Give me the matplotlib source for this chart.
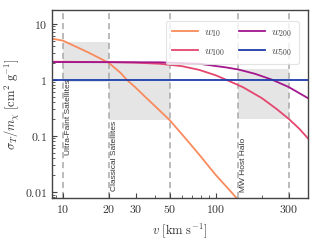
import matplotlib
matplotlib.use("Agg")
import matplotlib.pyplot as plt
from matplotlib.ticker import FixedLocator, FixedFormatter, LogLocator, NullFormatter

plt.rcParams['mathtext.fontset'] = 'cm'
plt.rcParams['font.family'] = 'DejaVu Serif'

# cross section curves (v in km/s, sigma/m in cm^2/g)
v_w10 = [8.5, 10, 14.7, 20, 23.9, 26.2, 30, 35, 40, 50, 65, 78, 100, 122, 140]
s_w10 = [5.4, 5.0, 3.07, 2.0, 1.32, 1.0, 0.72, 0.48, 0.34, 0.19, 0.083, 0.046, 0.020, 0.011, 0.0072]

v_w100 = [8.5, 20, 30, 43, 60, 78, 100, 117, 150, 200, 250, 300, 350, 400]
s_w100 = [2.1, 2.07, 2.02, 1.93, 1.75, 1.5, 1.2, 1.0, 0.74, 0.47, 0.30, 0.20, 0.135, 0.09]

v_w200 = [8.5, 43, 78, 117, 141, 180, 234, 300, 400]
s_w200 = [2.07, 2.05, 1.93, 1.66, 1.52, 1.28, 1.0, 0.74, 0.47]

v_w500 = [8.5, 400]
s_w500 = [1.0, 1.0]

# observational ranges: (v_lo, v_hi, sigma_lo, sigma_hi, label)
regions = [
    (10, 20, 0.9, 4.8, "Ultra-Faint Satellites"),
    (20, 50, 0.19, 2.0, "Classical Satellites"),
    (140, 300, 0.2, 1.55, "MW Host Halo"),
]
label_y = [0.046, 0.0105, 0.0098]
dash_v = [10, 20, 50, 140, 300]

fig = plt.figure(figsize=(3.2, 2.4), dpi=100)
ax = fig.add_axes([0.1625, 0.175, 0.8, 0.783])

for (lo, hi, slo, shi, name), ly in zip(regions, label_y):
    ax.fill_between([lo, hi], slo, shi, color='#e5e5e5', lw=0, zorder=0)
    ax.text(lo * 1.09, ly, name, rotation=90, va='bottom', ha='center',
            fontsize=6, family='Liberation Sans', color='#333333')
for v in dash_v:
    ax.axvline(v, color='#a8a8a8', ls=(0, (4, 2.5)), lw=1.1, zorder=1)

ax.plot(v_w10, s_w10, color='#f98a5c', lw=1.3, label=r'$w_{10}$')
ax.plot(v_w100, s_w100, color='#e4466e', lw=1.3, label=r'$w_{100}$')
ax.plot(v_w200, s_w200, color='#a3168c', lw=1.3, label=r'$w_{200}$')
ax.plot(v_w500, s_w500, color='#1c3caa', lw=1.3, label=r'$w_{500}$')

ax.set_xscale('log')
ax.set_yscale('log')
ax.set_xlim(8.5, 400)
ax.set_ylim(0.0078, 17.5)

xt = [10, 20, 30, 50, 100, 300]
ax.xaxis.set_major_locator(FixedLocator(xt))
ax.xaxis.set_major_formatter(FixedFormatter([r'$%d$' % t for t in xt]))
ax.xaxis.set_minor_locator(LogLocator(base=10, subs=range(2, 10)))
ax.xaxis.set_minor_formatter(NullFormatter())
yt = [0.01, 0.1, 1, 10]
ax.yaxis.set_major_locator(FixedLocator(yt))
ax.yaxis.set_major_formatter(FixedFormatter([r'$0.01$', r'$0.1$', r'$1$', r'$10$']))
ax.yaxis.set_minor_locator(LogLocator(base=10, subs=range(2, 10)))
ax.yaxis.set_minor_formatter(NullFormatter())

ax.tick_params(which='both', direction='in', colors='#444444', labelcolor='#333333', labelsize=8.5)
ax.tick_params(which='major', length=3.5, width=0.8)
ax.tick_params(which='minor', length=2, width=0.6)
for s in ax.spines.values():
    s.set_color('#444444')
    s.set_linewidth(1.0)

ax.set_xlabel(r'$v\ [\mathrm{km\ s^{-1}}]$', fontsize=9, color='#333333', labelpad=4)
ax.set_ylabel(r'$\sigma_T/m_\chi\ [\mathrm{cm^2\ g^{-1}}]$', fontsize=9, color='#333333', labelpad=2)

leg = ax.legend(loc='upper right', ncol=2, fontsize=8, frameon=True, fancybox=True,
                handlelength=2.3, columnspacing=1.2, borderpad=0.55, labelspacing=0.6,
                handletextpad=0.6, bbox_to_anchor=(0.985, 0.97))
leg.get_frame().set_edgecolor('#dddddd')
leg.get_frame().set_linewidth(0.8)
for t in leg.get_texts():
    t.set_color('#444444')

fig.savefig('out.png', dpi=100)
